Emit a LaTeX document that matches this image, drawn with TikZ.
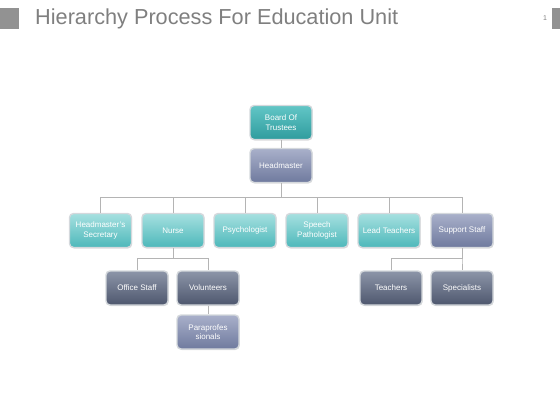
\documentclass[tikz,border=0pt]{standalone}
\usepackage{fontspec}
\setmainfont{Liberation Sans}
\usetikzlibrary{shadows}
\definecolor{tealtop}{HTML}{A6E0E0}
\definecolor{tealbot}{HTML}{4DB8BA}
\definecolor{dtealtop}{HTML}{62C6C6}
\definecolor{dtealbot}{HTML}{2F9C9E}
\definecolor{bluetop}{HTML}{A9B0CA}
\definecolor{bluebot}{HTML}{6F7A9E}
\definecolor{darktop}{HTML}{8C95A8}
\definecolor{darkbot}{HTML}{4E576E}
\definecolor{boxedge}{HTML}{D4D8DC}
\definecolor{linegray}{HTML}{B4B4B4}
\definecolor{titlegray}{HTML}{7F7F7F}
\tikzset{
  box/.style={rounded corners=4pt, draw=boxedge, line width=1.4pt,
    minimum width=62pt, minimum height=34pt, align=center, text=white,
    font=\fontsize{8}{9.4}\selectfont, inner sep=1pt,
    drop shadow={shadow xshift=0.6pt, shadow yshift=-1pt, opacity=0.25}},
  teal/.style={box, top color=tealtop, bottom color=tealbot},
  dteal/.style={box, top color=dtealtop, bottom color=dtealbot},
  bluegray/.style={box, top color=bluetop, bottom color=bluebot},
  dark/.style={box, top color=darktop, bottom color=darkbot},
  conn/.style={draw=linegray, line width=0.8pt}
}
\begin{document}
\begin{tikzpicture}[x=1pt,y=-1pt]
\useasboundingbox (0,0) rectangle (560,420);
% title
\fill[titlegray!85] (0,8) rectangle (19,29);
\fill[titlegray!85] (552,8) rectangle (560,29);
\node[anchor=base west, text=titlegray, font=\fontsize{21.7}{24}\selectfont, inner sep=0pt] (title) at (35,25) {Hierarchy Process For Education Unit};
\node[text=titlegray, font=\fontsize{7}{8}\selectfont, inner sep=0pt] (pagenum) at (545,18) {1};
% nodes
\node[dteal] (board) at (281,122.5) {Board Of\\Trustees};
\node[bluegray] (head) at (281,165.5) {Headmaster};
\node[teal] (sec) at (100.5,230.5) {Headmaster's\\Secretary};
\node[teal] (nurse) at (173,230.5) {Nurse};
\node[teal] (psy) at (245,230.5) {Psychologist};
\node[teal] (speech) at (317,230.5) {Speech\\Pathologist};
\node[teal] (lead) at (389,230.5) {Lead Teachers};
\node[bluegray] (support) at (462,230.5) {Support Staff};
\node[dark] (office) at (137,288) {Office Staff};
\node[dark] (vol) at (208,288) {Volunteers};
\node[bluegray] (para) at (208,332) {Paraprofes\\sionals};
\node[dark] (teach) at (391,288) {Teachers};
\node[dark] (spec) at (462,288) {Specialists};
% buses
\coordinate (bus1) at (0,197);
\coordinate (bus2) at (0,258.5);
% connectors
\draw[conn] (board.south) -- (head.north);
\foreach \c in {sec,nurse,psy,speech,lead,support}
  \draw[conn] (head.south) -- (head.south |- bus1) -| (\c.north);
\foreach \c in {office,vol}
  \draw[conn] (nurse.south) -- (nurse.south |- bus2) -| (\c.north);
\draw[conn] (vol.south) -- (para.north);
\foreach \c in {teach,spec}
  \draw[conn] (support.south) -- (support.south |- bus2) -| (\c.north);
\end{tikzpicture}
\end{document}
